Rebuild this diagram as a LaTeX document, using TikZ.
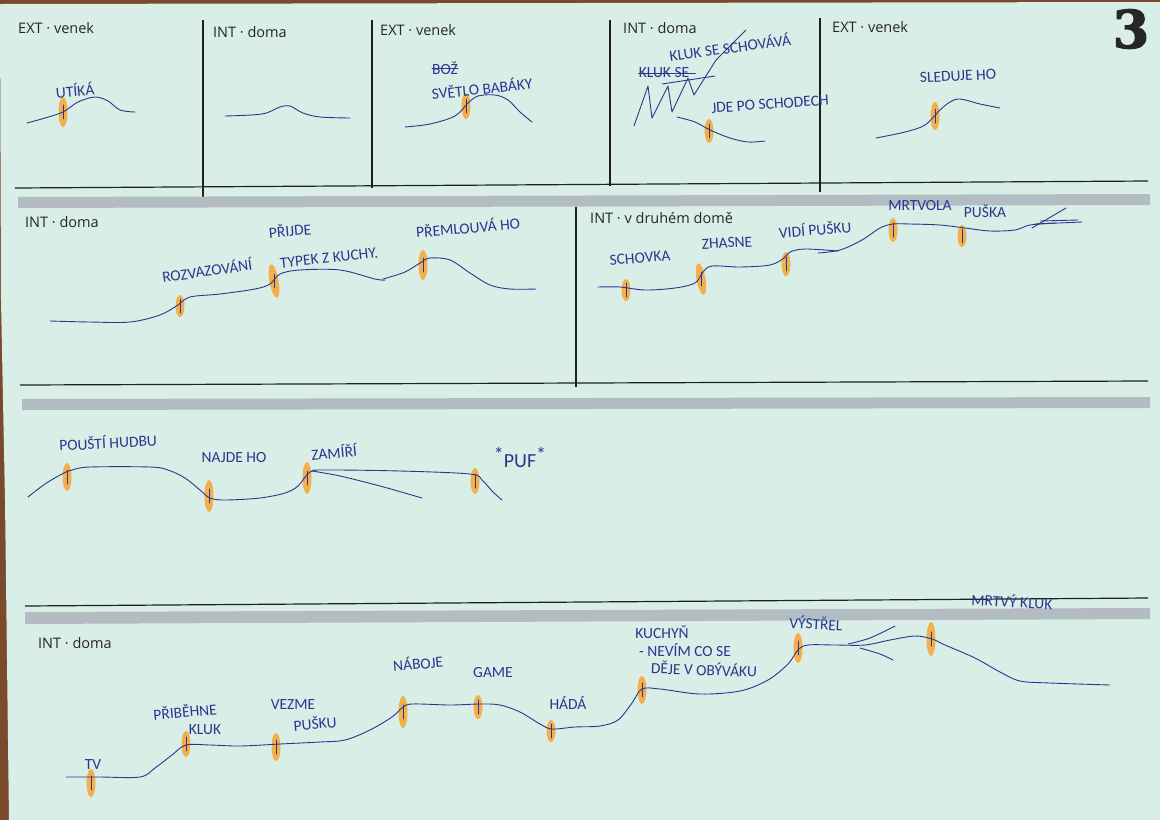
\documentclass[tikz,border=0pt]{standalone}
\usepackage{fontspec}
\setmainfont{Open Sans}
\newfontfamily\hand{Carlito}
\newfontfamily\numfont[BoldFeatures={FakeBold=2.5}]{DejaVu Serif}
\usetikzlibrary{shapes.geometric}
\definecolor{paper}{HTML}{D9EEE6}
\definecolor{inkblue}{HTML}{2B3690}
\definecolor{hlorange}{HTML}{F6A93A}
\definecolor{bandgrey}{HTML}{B3BCC3}
\definecolor{deskbrown}{HTML}{7A4A2C}
\newcommand{\hlmark}[5]{%
  \node[hlm, minimum height=#4pt, rotate=#5] (#1) at (#2,#3) {};
  \draw[ink] ([yshift=7pt]#1.center) -- ([yshift=-7pt]#1.center);}
\begin{document}
\begin{tikzpicture}[x=1pt,y=-1pt,
  ink/.style={draw=inkblue, line width=0.9pt, line cap=round, line join=round},
  frame/.style={draw=black!88, line width=1.2pt},
  band/.style={fill=bandgrey},
  lbl/.style={anchor=west, inner sep=0pt, text=black!85, font=\fontsize{14.5}{14.5}\selectfont},
  hw/.style={inner sep=0pt, text=inkblue, font=\hand\fontsize{15.5}{15.5}\selectfont},
  hlm/.style={shape=ellipse, fill=hlorange, fill opacity=0.9, minimum width=9pt, inner sep=0pt, draw=none},
  curve/.style={ink, smooth, tension=0.55},
]
\useasboundingbox (0,0) rectangle (1160,820);
% desk and paper
\fill[deskbrown] (0,0) rectangle (1160,820);
\fill[paper] (0,4) -- (1160,2) -- (1160,820) -- (9,820) -- (5,500) -- (1,300) -- cycle;

% ---------- frame lines and bands ----------
\draw[frame] (15,188) -- (1148,181);
\draw[frame] (203,20) -- (203,197);
\draw[frame] (372,20) -- (372,188);
\draw[frame] (610,20) -- (610,186);
\draw[frame] (820,18) -- (820,192);
\fill[band] (18,197) -- (1150,194) -- (1150,205) -- (18,208) -- cycle;

\draw[frame] (576,207) -- (576,387);
\draw[frame] (20,385) -- (1148,381);
\fill[band] (22,399) -- (1150,397) -- (1150,408) -- (22,410) -- cycle;

\draw[frame] (25,606) -- (1148,598);
\fill[band] (25,612) -- (1150,608) -- (1150,619) -- (25,624) -- cycle;

% ---------- printed labels ----------
\node[lbl] (l1) at (18,28) {EXT · venek};
\node[lbl] (l2) at (213,32) {INT · doma};
\node[lbl] (l3) at (380,30) {EXT · venek};
\node[lbl] (l4) at (623,28) {INT · doma};
\node[lbl] (l5) at (832,27) {EXT · venek};
\node[lbl] (l6) at (25,222) {INT · doma};
\node[lbl] (l7) at (590,218) {INT · v druhém domě};
\node[lbl] (l8) at (38,643) {INT · doma};
\node[inner sep=0pt, text=black!85, font=\numfont\bfseries\fontsize{52}{52}\selectfont] (num) at (1131,29) {3};

% ---------- row 1 ----------
\hlmark{a1}{63}{112}{30}{0}
\draw[curve] plot coordinates {(27,123) (45,118) (63,112) (78,102) (95,97) (108,101) (120,110) (135,112)};
\node[hw, rotate=5] (t1) at (75,90) {UTÍKÁ};

\draw[curve] plot coordinates {(225,116) (262,114) (280,107) (290,106) (303,113) (320,117) (350,118)};

\hlmark{a3}{466}{106}{26}{0}
\draw[curve] plot coordinates {(405,127) (430,124) (455,116) (468,103) (478,96) (495,95) (508,100) (520,112) (532,122)};
\node[hw] (t3a) at (445,68) {BOŽ};
\draw[ink] (t3a.west) -- (t3a.east);
\node[hw, rotate=6] (t3) at (482,88) {SVĚTLO BABÁKY};

\hlmark{a4}{709}{131}{24}{0}
\draw[curve] plot coordinates {(677,117) (695,122) (710,130) (730,138) (748,142) (765,141)};
\node[hw, rotate=8] (t4a) at (730,47) {KLUK SE SCHOVÁVÁ};
\node[hw] (t4b) at (664,73) {KLUK SE};
\draw[ink] (t4b.west) -- ([xshift=6pt]t4b.east);
\draw[ink] (634,126) -- (648,86) -- (652,118) -- (668,86) -- (672,112) -- (688,78) -- (694,95) -- (716,60) -- (746,30);
\draw[ink] (662,84) -- (715,76);
\node[hw, rotate=4] (t4) at (770,104) {JDE PO SCHODECH};

\hlmark{a5}{935}{116}{28}{0}
\draw[curve] plot coordinates {(876,138) (905,132) (925,125) (940,110) (950,102) (960,99) (980,104) (1000,108)};
\node[hw, rotate=3] (t5) at (958,76) {SLEDUJE HO};

% ---------- row 2 left ----------
\hlmark{b1}{180}{306}{22}{0}
\hlmark{b2}{274}{281}{34}{10}
\hlmark{b3}{423}{265}{30}{0}
\draw[curve] plot coordinates {(50,321) (90,322) (130,322) (160,315) (178,305) (190,297) (220,294) (255,289) (270,284) (280,274) (300,270) (340,270) (375,279) (385,280)};
\draw[curve] plot coordinates {(383,279) (405,272) (420,263) (430,258) (450,260) (470,273) (490,285) (510,289) (536,289)};
\node[hw, rotate=8] (u1) at (207,270) {ROZVAZOVÁNÍ};
\node[hw, rotate=5] (u2) at (290,230) {PŘIJDE};
\node[hw, rotate=6] (u3) at (329,258) {TYPEK Z KUCHY.};
\node[hw, rotate=5] (u4) at (468,227) {PŘEMLOUVÁ HO};

% ---------- row 2 right ----------
\hlmark{c1}{626}{290}{22}{0}
\hlmark{c2}{701}{279}{32}{10}
\hlmark{c3}{786}{264}{24}{0}
\hlmark{c4}{893}{230}{24}{0}
\hlmark{c5}{962}{236}{22}{0}
\draw[curve] plot coordinates {(598,287) (620,287) (645,290) (675,288) (695,283) (703,272) (712,266) (740,267) (770,265) (784,258) (790,252) (805,249) (838,251)};
\draw[curve] plot coordinates {(818,253) (840,250) (862,240) (880,228) (893,224) (910,224) (940,225) (965,228) (990,231) (1015,230) (1030,225) (1055,223)};
\draw[ink] (1035,224) -- (1082,222);
\draw[ink] (1040,221) -- (1078,220);
\draw[ink] (1032,228) -- (1066,208);
\node[hw, rotate=5] (v1) at (640,258) {SCHOVKA};
\node[hw, rotate=3] (v2) at (727,243) {ZHASNE};
\node[hw, rotate=5] (v3) at (815,229) {VIDÍ PUŠKU};
\node[hw] (v4) at (920,206) {MRTVOLA};
\node[hw] (v5) at (985,211) {PUŠKA};

% ---------- row 3 ----------
\hlmark{d1}{67}{477}{28}{0}
\hlmark{d2}{209}{496}{32}{0}
\hlmark{d3}{307}{478}{32}{0}
\hlmark{d4}{475}{481}{26}{0}
\draw[curve] plot coordinates {(28,497) (45,484) (62,474) (72,470) (90,467) (150,467) (168,470) (185,478) (200,490) (210,498) (225,500) (260,498) (285,493) (298,486) (310,472) (325,470) (400,471) (470,474) (482,480) (493,492) (502,500)};
\draw[curve] plot coordinates {(312,471) (340,476) (380,486) (422,498)};
\node[hw, rotate=3] (w1) at (108,442) {POUŠTÍ HUDBU};
\node[hw] (w2) at (234,458) {NAJDE HO};
\node[hw, rotate=5] (w3) at (334,452) {ZAMÍŘÍ};
\node[hw, font=\hand\fontsize{20}{20}\selectfont] (w4) at (520,457) {\raisebox{6pt}{*}PUF\raisebox{6pt}{*}};

% ---------- row 4 ----------
\hlmark{e1}{91}{783}{28}{0}
\hlmark{e2}{186}{744}{26}{0}
\hlmark{e3}{276}{747}{28}{0}
\hlmark{e4}{403}{712}{32}{0}
\hlmark{e5}{478}{707}{24}{0}
\hlmark{e6}{551}{731}{22}{0}
\hlmark{e7}{642}{690}{28}{0}
\hlmark{e8}{798}{648}{30}{0}
\hlmark{e9}{931}{639}{34}{0}
\draw[curve] plot coordinates {(66,777) (100,777) (140,777) (155,768) (172,755) (186,745) (210,745) (240,746) (280,744) (320,742) (345,740) (370,730) (392,717) (402,708) (412,704) (450,705) (480,704) (500,705) (520,712) (540,724) (552,729) (575,727) (600,726) (618,720) (632,703) (642,689) (660,689) (700,694) (740,691) (768,680) (788,664) (798,650) (808,645) (835,645) (865,645) (890,640) (915,636) (932,639) (945,645) (975,658) (1000,672) (1020,681) (1050,683) (1110,685)};
\draw[curve] plot coordinates {(848,644) (870,638) (895,626)};
\draw[curve] plot coordinates {(860,648) (880,654) (893,660)};
\node[hw] (x1) at (93,765) {TV};
\node[hw, rotate=5] (x2) at (185,711) {PŘIBĚHNE};
\node[hw] (x3) at (205,730) {KLUK};
\node[hw] (x4) at (293,705) {VEZME};
\node[hw, rotate=5] (x5) at (315,723) {PUŠKU};
\node[hw, rotate=5] (x6) at (418,663) {NÁBOJE};
\node[hw] (x7) at (493,673) {GAME};
\node[hw] (x8) at (568,703) {HÁDÁ};
\node[hw] (x9) at (662,632) {KUCHYŇ};
\node[hw] (x10) at (685,650) {- NEVÍM CO SE};
\node[hw, rotate=-2] (x11) at (704,669) {DĚJE V OBÝVÁKU};
\node[hw, rotate=-3] (x12) at (816,623) {VÝSTŘEL};
\node[hw, rotate=-3] (x13) at (1012,601) {MRTVÝ KLUK};
\end{tikzpicture}
\end{document}
